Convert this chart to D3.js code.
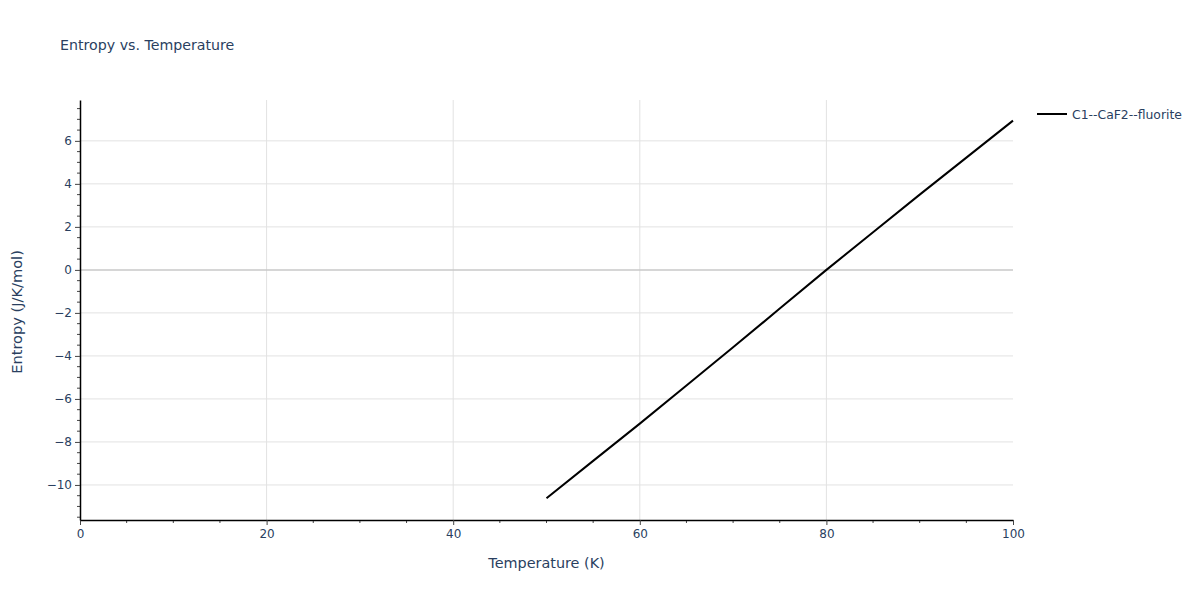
<!DOCTYPE html>
<html>
<head>
<meta charset="utf-8">
<script src="https://cdn.jsdelivr.net/npm/d3@7"></script>
<style>
  body { margin: 0; background: #fff; }
  text { font-family: "DejaVu Sans", verdana, arial, sans-serif; fill: #2a3f5f; }
</style>
</head>
<body>
<div id="chart"></div>
<script>
const temps = [50, 55, 60, 65, 70, 75, 80, 85, 90, 95, 100];
const entropy = [-10.62, -8.88, -7.15, -5.38, -3.6, -1.8, 0.0, 1.75, 3.5, 5.22, 6.94];
const seriesName = "C1--CaF2--fluorite";
const xTicks = [0, 20, 40, 60, 80, 100];
const yTicks = [-10, -8, -6, -4, -2, 0, 2, 4, 6];

const W = 1200, H = 600;
const margin = {top: 100, right: 187, bottom: 80, left: 80},
      width = W - margin.left - margin.right,
      height = H - margin.top - margin.bottom;

const svg = d3.select("#chart").append("svg")
              .attr("width", W)
              .attr("height", H);

const g = svg.append("g")
             .attr("transform", `translate(${margin.left},${margin.top})`);

const x = d3.scaleLinear().domain([0, 100]).range([0, width]);
const y = d3.scaleLinear().domain([-11.63, 7.9]).range([height, 0]);

// grid
g.selectAll(".xgrid")
 .data(xTicks.filter(d => d > 0 && d < 100))
 .enter().append("line")
 .attr("x1", d => x(d)).attr("x2", d => x(d))
 .attr("y1", 0).attr("y2", height)
 .attr("stroke", "#e2e2e2").attr("stroke-width", 1);

g.selectAll(".ygrid")
 .data(yTicks)
 .enter().append("line")
 .attr("x1", 0).attr("x2", width)
 .attr("y1", d => y(d)).attr("y2", d => y(d))
 .attr("stroke", d => d === 0 ? "#c8c8c8" : "#e2e2e2")
 .attr("stroke-width", d => d === 0 ? 1.5 : 1);

// minor ticks
const xMinor = d3.range(0, 101, 5);
const yMinor = d3.range(-11.5, 7.91, 0.5);

g.append("g")
 .attr("transform", `translate(0,${height})`)
 .selectAll("line")
 .data(xMinor.filter(d => !xTicks.includes(d)))
 .enter().append("line")
 .attr("x1", d => x(d)).attr("x2", d => x(d))
 .attr("y1", 0).attr("y2", 3)
 .attr("stroke", "#444");

g.append("g")
 .selectAll("line")
 .data(yMinor.filter(d => !yTicks.includes(d)))
 .enter().append("line")
 .attr("x1", -3).attr("x2", 0)
 .attr("y1", d => y(d)).attr("y2", d => y(d))
 .attr("stroke", "#444");

// axes
const fmt = d => d < 0 ? "\u2212" + Math.abs(d) : String(d);

const xAxis = g.append("g")
 .attr("transform", `translate(0,${height})`)
 .call(d3.axisBottom(x).tickValues(xTicks).tickFormat(fmt).tickSize(5).tickPadding(4).tickSizeOuter(0));

const yAxis = g.append("g")
 .call(d3.axisLeft(y).tickValues(yTicks).tickFormat(fmt).tickSize(5).tickPadding(3).tickSizeOuter(0));

[xAxis, yAxis].forEach(a => {
  a.select(".domain").attr("stroke", "#000").attr("stroke-width", 1.5);
  a.selectAll(".tick line").attr("stroke", "#444");
  a.selectAll(".tick text").style("font-size", "12px").attr("fill", "#2a3f5f");
});

// line
const line = d3.line()
               .x((d, i) => x(temps[i]))
               .y(d => y(d));

g.append("path")
 .datum(entropy)
 .attr("fill", "none")
 .attr("stroke", "#000")
 .attr("stroke-width", 2)
 .attr("d", line);

// titles
svg.append("text")
   .attr("x", 60).attr("y", 50)
   .style("font-size", "14.2px")
   .text("Entropy vs. Temperature");

svg.append("text")
   .attr("x", margin.left + width / 2).attr("y", 568)
   .attr("text-anchor", "middle")
   .style("font-size", "14.4px")
   .text("Temperature (K)");

svg.append("text")
   .attr("transform", `translate(22,${margin.top + height / 2 + 2}) rotate(-90)`)
   .attr("text-anchor", "middle")
   .style("font-size", "14.6px")
   .text("Entropy (J/K/mol)");

// legend
const leg = svg.append("g").attr("transform", "translate(1037,114)");
leg.append("line")
   .attr("x1", 0).attr("x2", 30)
   .attr("y1", 0).attr("y2", 0)
   .attr("stroke", "#000").attr("stroke-width", 2);
leg.append("text")
   .attr("x", 35).attr("y", 4.5)
   .style("font-size", "12.4px")
   .text(seriesName);
</script>
</body>
</html>
